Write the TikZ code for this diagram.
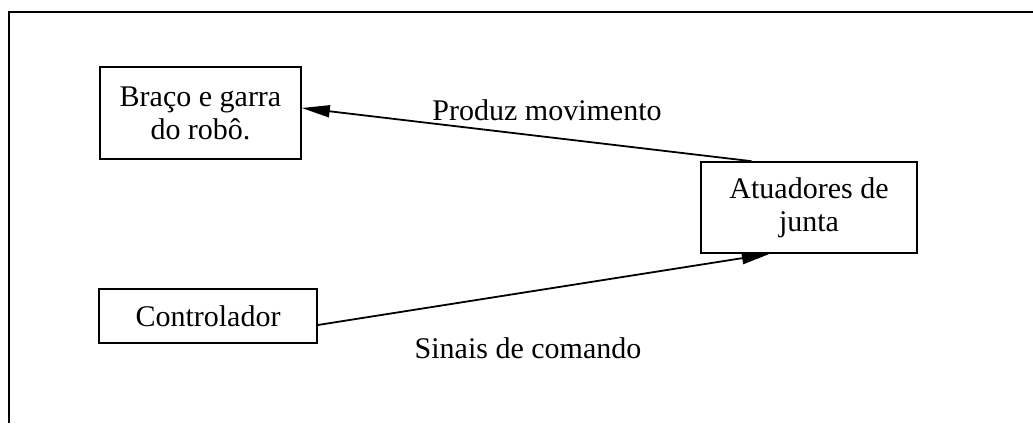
\documentclass[tikz,border=0pt]{standalone}
\usepackage{fontspec}
\setmainfont{Liberation Serif}
\usetikzlibrary{arrows.meta,calc}
\begin{document}
\begin{tikzpicture}[x=1pt,y=-1pt,
  box/.style={draw,line width=1.6pt,inner sep=0pt,align=center,
    font=\fontsize{30}{33}\selectfont},
  lbl/.style={inner sep=0pt,font=\fontsize{30}{33}\selectfont},
  conn/.style={line width=1.8pt,-{Triangle[length=28pt,width=12pt]}},
  frame/.style={line width=1.8pt}]
\useasboundingbox (0,0) rectangle (1033,423);
\coordinate (ftop) at (1033,12);
\coordinate (fcorner) at (9,12);
\coordinate (fbot) at (9,423);
\draw[frame] (ftop) -- (fcorner) -- (fbot);
\node[box,minimum width=201pt,minimum height=92pt] (bra) at (200.5,113) {Braço e garra\\do robô.};
\node[box,minimum width=216pt,minimum height=91pt] (atu) at (809,207.5) {Atuadores de\\junta};
\node[box,minimum width=218pt,minimum height=54pt] (con) at (208,316) {Controlador};
\draw[conn] ($(atu.north west)!0.236!(atu.north east)$) -- ([yshift=5pt]bra.east);
\draw[conn] ([yshift=-9pt]con.east) -- ($(atu.south west)!0.32!(atu.south east)$);
\node[lbl] (lp) at (547,110) {Produz movimento};
\node[lbl] (ls) at (528,348) {Sinais de comando};
\end{tikzpicture}
\end{document}
